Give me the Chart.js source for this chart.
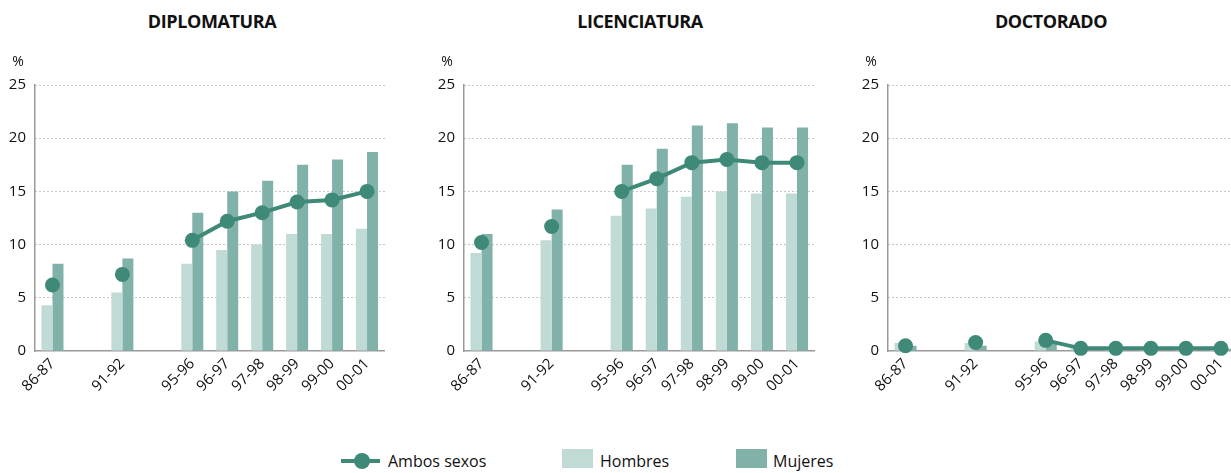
<!DOCTYPE html>
<html>
<head>
<meta charset="utf-8">
<script src="https://cdn.jsdelivr.net/npm/chart.js@4.4.1/dist/chart.umd.min.js"></script>
<style>
  html, body { margin: 0; padding: 0; background: #fff; width: 1231px; height: 473px; overflow: hidden; position: relative; }
  canvas { position: absolute; top: 0; }
  .title { position: absolute; top: 9px; font-family: "Open Sans", sans-serif; font-weight: 700; font-size: 18px; color: #111; transform: translateX(-50%); white-space: nowrap; letter-spacing: -0.4px; }
  .leg { position: absolute; font-family: "Open Sans", sans-serif; font-size: 16px; color: #111; top: 450px; white-space: nowrap; }
  .box { position: absolute; width: 31px; height: 19px; top: 449px; }
  .lline { position: absolute; left: 341px; top: 459px; width: 39px; height: 4px; background: #3f8978; }
  .ldot { position: absolute; left: 354px; top: 453px; width: 16px; height: 16px; border-radius: 50%; background: #3f8978; }
</style>
</head>
<body>
<div class="title" style="left:212px">DIPLOMATURA</div>
<div class="title" style="left:640px">LICENCIATURA</div>
<div class="title" style="left:1051px">DOCTORADO</div>

<canvas id="c1" width="392" height="420" style="left:0px"></canvas>
<canvas id="c2" width="402" height="420" style="left:420px"></canvas>
<canvas id="c3" width="406" height="420" style="left:840px"></canvas>

<div class="lline"></div><div class="ldot"></div>
<div class="leg" style="left:388px">Ambos sexos</div>
<div class="box" style="left:562px;background:#c0dad5"></div>
<div class="leg" style="left:600px">Hombres</div>
<div class="box" style="left:736px;background:#80b2aa"></div>
<div class="leg" style="left:773px">Mujeres</div>

<script>
const categories = ['86-87', '', '91-92', '', '95-96', '96-97', '97-98', '98-99', '99-00', '00-01'];
const yTicks = [0, 5, 10, 15, 20, 25];

const dipHombres = [4.3, null, 5.5, null, 8.2, 9.5, 10, 11, 11, 11.5];
const dipMujeres = [8.2, null, 8.7, null, 13, 15, 16, 17.5, 18, 18.7];
const dipAmbos   = [6.2, null, 7.2, null, 10.4, 12.2, 13, 14, 14.2, 15];

const licHombres = [9.2, null, 10.4, null, 12.7, 13.4, 14.5, 15, 14.8, 14.8];
const licMujeres = [11, null, 13.3, null, 17.5, 19, 21.2, 21.4, 21, 21];
const licAmbos   = [10.2, null, 11.7, null, 15, 16.2, 17.7, 18, 17.7, 17.7];

const docHombres = [0.75, null, 0.75, null, 0.9, 0.2, 0.2, 0.2, 0.2, 0.2];
const docMujeres = [0.5, null, 0.5, null, 0.9, 0.2, 0.2, 0.2, 0.2, 0.2];
const docAmbos   = [0.5, null, 0.8, null, 1.0, 0.25, 0.25, 0.25, 0.25, 0.25];

const C_H = '#c0dad5', C_M = '#80b2aa', C_A = '#3f8978', AXIS = '#999999';
const FONT = '"Open Sans", sans-serif';

const pctPlugin = {
  id: 'pct',
  afterDraw(chart) {
    const ctx = chart.ctx;
    ctx.save();
    ctx.font = '14px ' + FONT;
    ctx.fillStyle = '#111';
    ctx.textAlign = 'center';
    ctx.textBaseline = 'middle';
    ctx.fillText('%', chart.chartArea.left - 17, 62);
    ctx.restore();
  }
};

function makeChart(id, yWidth, hombres, mujeres, ambos) {
  return new Chart(document.getElementById(id), {
    type: 'bar',
    data: {
      labels: categories,
      datasets: [
        { type: 'line', label: 'Ambos sexos', data: ambos, order: 0,
          borderColor: C_A, backgroundColor: C_A, borderWidth: 4,
          pointRadius: 7.5, pointHoverRadius: 7.5, pointBackgroundColor: C_A, pointBorderWidth: 0,
          spanGaps: false, tension: 0, clip: false },
        { label: 'Hombres', data: hombres, backgroundColor: C_H, order: 1,
          categoryPercentage: 0.63, barPercentage: 1.0 },
        { label: 'Mujeres', data: mujeres, backgroundColor: C_M, order: 1,
          categoryPercentage: 0.63, barPercentage: 1.0 }
      ]
    },
    options: {
      responsive: false,
      animation: false,
      events: [],
      layout: { padding: { top: 85, left: 0, right: 0, bottom: 0 } },
      plugins: { legend: { display: false }, tooltip: { enabled: false }, title: { display: false } },
      scales: {
        x: {
          grid: { display: false, drawTicks: false },
          border: { display: true, color: AXIS, width: 1.5 },
          ticks: { color: '#111', font: { family: FONT, size: 15 }, maxRotation: 45, minRotation: 45, autoSkip: false, padding: 4 },
          afterFit(s) { s.height = 69; }
        },
        y: {
          min: 0, max: 25,
          afterBuildTicks(s) { s.ticks = yTicks.map(v => ({ value: v })); },
          grid: {
            drawTicks: false,
            color: c => (c.tick && c.tick.value === 0) ? 'rgba(0,0,0,0)' : '#8f8f8f',
            lineWidth: 1
          },
          border: { display: true, color: AXIS, width: 1.5, dash: [1, 3] },
          ticks: { color: '#111', font: { family: FONT, size: 15 }, padding: 9 },
          afterFit(s) { s.width = yWidth; }
        }
      }
    },
    plugins: [pctPlugin]
  });
}

makeChart('c1', 35, dipHombres, dipMujeres, dipAmbos);
makeChart('c2', 44, licHombres, licMujeres, licAmbos);
makeChart('c3', 48, docHombres, docMujeres, docAmbos);
</script>
</body>
</html>
